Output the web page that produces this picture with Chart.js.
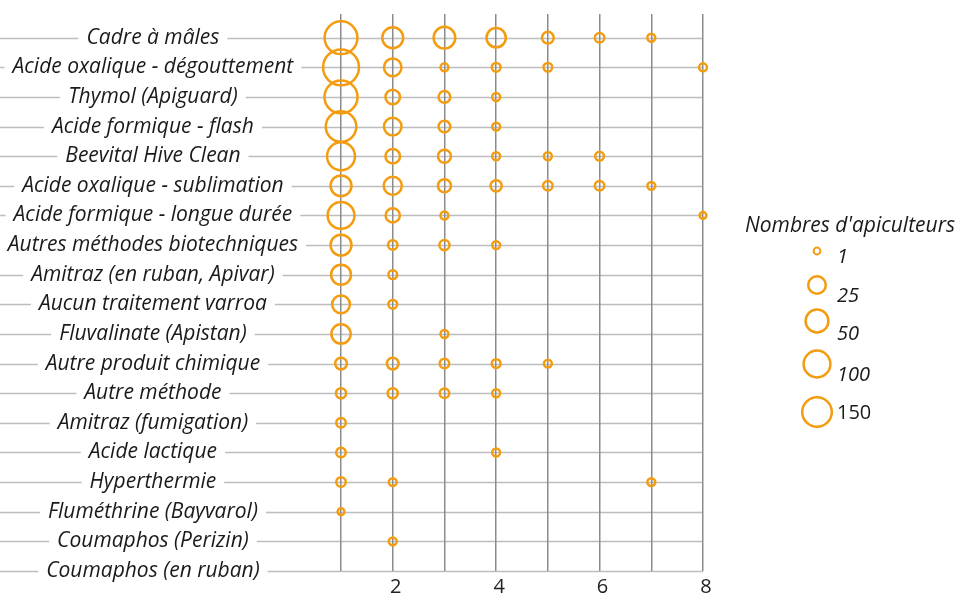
<!DOCTYPE html>
<html>
<head>
<meta charset="utf-8">
<script src="https://cdn.jsdelivr.net/npm/chart.js@4.4.1/dist/chart.umd.min.js"></script>
<style>
  html, body { margin: 0; padding: 0; background: #fff; }
  #wrap { width: 961px; height: 599px; }
</style>
</head>
<body>
<div id="wrap"><canvas id="chart" width="961" height="599"></canvas></div>
<script>
// treatments, top to bottom
const treatments = [
    'Cadre à mâles',
    'Acide oxalique - dégouttement',
    'Thymol (Apiguard)',
    'Acide formique - flash',
    'Beevital Hive Clean',
    'Acide oxalique - sublimation',
    'Acide formique - longue durée',
    'Autres méthodes biotechniques',
    'Amitraz (en ruban, Apivar)',
    'Aucun traitement varroa',
    'Fluvalinate (Apistan)',
    'Autre produit chimique',
    'Autre méthode',
    'Amitraz (fumigation)',
    'Acide lactique',
    'Hyperthermie',
    'Fluméthrine (Bayvarol)',
    'Coumaphos (Perizin)',
    'Coumaphos (en ruban)'
];

// x positions 1..8
const xValues = [1, 2, 3, 4, 5, 6, 7, 8];

// number of beekeepers per treatment (rows) and x value (columns), 0 = no bubble
const counts = [
    [220, 40, 44, 32, 8, 4, 2, 0],
    [300, 25, 2, 3, 3, 0, 0, 2],
    [225, 15, 8, 2, 0, 0, 0, 0],
    [170, 25, 8, 2, 0, 0, 0, 0],
    [120, 15, 11, 2, 2, 3, 0, 0],
    [40, 27, 11, 7, 4, 4, 2, 0],
    [100, 14, 2, 0, 0, 0, 0, 1],
    [40, 4, 5, 2, 0, 0, 0, 0],
    [35, 3, 0, 0, 0, 0, 0, 0],
    [26, 3, 0, 0, 0, 0, 0, 0],
    [32, 0, 2, 0, 0, 0, 0, 0],
    [8, 8, 4, 3, 2, 0, 0, 0],
    [5, 5, 4, 2, 0, 0, 0, 0],
    [4, 0, 0, 0, 0, 0, 0, 0],
    [4, 0, 0, 2, 0, 0, 0, 0],
    [4, 2, 0, 0, 0, 0, 2, 0],
    [1, 0, 0, 0, 0, 0, 0, 0],
    [0, 2, 0, 0, 0, 0, 0, 0],
    [0, 0, 0, 0, 0, 0, 0, 0]
];

const xTickLabels = ['2', '4', '6', '8'];
const legendSizes = ['1', '25', '50', '100', '150'];

const ORANGE = '#f39c0f';
const labelFont = '"Open Sans", sans-serif';

// bubble radius (px) from count, piecewise in sqrt(count)
function bubbleRadius(n) {
    const nodes = [[1, 3.4], [5, 8.8], [7.07, 11.4], [10, 13.4], [12.25, 14.8]];
    const s = Math.sqrt(n);
    if (s <= nodes[0][0]) return nodes[0][1];
    for (let i = 1; i < nodes.length; i++) {
        if (s <= nodes[i][0]) {
            const [s0, r0] = nodes[i - 1], [s1, r1] = nodes[i];
            return r0 + (r1 - r0) * (s - s0) / (s1 - s0);
        }
    }
    return 14.8 + 0.62 * (s - 12.25);
}

const points = [];
counts.forEach((row, i) => {
    row.forEach((n, j) => {
        if (n > 0) points.push({ x: xValues[j], y: i, r: bubbleRadius(n), n: n });
    });
});

// don't let the big bubbles push the plot area down
Chart.BubbleController.prototype.getMaxOverflow = () => 0;

// horizontal lines running across the label area, drawn under the labels
const rowLines = {
    id: 'rowLines',
    beforeDraw(chart) {
        const { ctx, chartArea, scales: { y } } = chart;
        ctx.save();
        ctx.strokeStyle = '#bdbdbd';
        ctx.lineWidth = 1.5;
        treatments.forEach((_, i) => {
            const py = Math.round(y.getPixelForValue(i)) + 0.5;
            ctx.beginPath();
            ctx.moveTo(0, py);
            ctx.lineTo(chartArea.right, py);
            ctx.stroke();
        });
        ctx.restore();
    }
};

// size legend on the right
const sizeLegend = {
    id: 'sizeLegend',
    afterDraw(chart) {
        const ctx = chart.ctx;
        ctx.save();
        ctx.fillStyle = '#1a1a1a';
        ctx.font = 'italic 21px ' + labelFont;
        ctx.textAlign = 'center';
        ctx.textBaseline = 'middle';
        ctx.fillText("Nombres d'apiculteurs", 850, 226);
        const cy = [251, 285, 321, 364, 412];
        const ty = [257, 296, 334, 375, 413];
        ctx.textAlign = 'left';
        legendSizes.forEach((v, i) => {
            const r = bubbleRadius(Number(v));
            ctx.beginPath();
            ctx.arc(817, cy[i], r, 0, Math.PI * 2);
            ctx.strokeStyle = ORANGE;
            ctx.lineWidth = i === 0 ? 2 : 2.5;
            ctx.stroke();
            ctx.font = (i === legendSizes.length - 1 ? '' : 'italic ') + '20px ' + labelFont;
            ctx.fillText(v, 837, ty[i]);
        });
        ctx.restore();
    }
};

new Chart(document.getElementById('chart'), {
    type: 'bubble',
    data: {
        datasets: [{
            label: "Nombres d'apiculteurs",
            data: points,
            borderColor: ORANGE,
            backgroundColor: 'rgba(0,0,0,0)',
            borderWidth: 2.5,
            clip: false
        }]
    },
    options: {
        responsive: false,
        animation: false,
        layout: { padding: { top: 14, right: 258, left: 0, bottom: 0 } },
        plugins: {
            legend: { display: false },
            tooltip: { enabled: false }
        },
        scales: {
            x: {
                type: 'linear',
                min: 0.4,
                max: 8,
                afterBuildTicks(axis) {
                    axis.ticks = xValues.map(v => ({ value: v }));
                },
                afterFit(axis) {
                    axis.height = 28;
                    axis.paddingLeft = 0;
                    axis.paddingRight = 0;
                },
                grid: { color: '#8c8c8c', lineWidth: 1.5, drawTicks: false },
                border: { display: false },
                ticks: {
                    padding: 4,
                    labelOffset: 3,
                    color: '#222',
                    font: { family: labelFont, size: 20 },
                    callback: v => xTickLabels.includes(String(v)) ? String(v) : ''
                }
            },
            y: {
                type: 'linear',
                reverse: true,
                min: -0.8,
                max: 18,
                afterBuildTicks(axis) {
                    axis.ticks = treatments.map((_, i) => ({ value: i }));
                },
                afterFit(axis) {
                    axis.width = 310;
                    axis.paddingTop = 0;
                    axis.paddingBottom = 0;
                },
                grid: { display: false },
                border: { display: false },
                ticks: {
                    crossAlign: 'center',
                    padding: 4,
                    color: '#1a1a1a',
                    font: { family: labelFont, size: 21, style: 'italic' },
                    showLabelBackdrop: true,
                    backdropColor: '#fff',
                    backdropPadding: { left: 8, right: 8, top: 0, bottom: 0 },
                    callback: v => treatments[v]
                }
            }
        }
    },
    plugins: [rowLines, sizeLegend]
});
</script>
</body>
</html>
